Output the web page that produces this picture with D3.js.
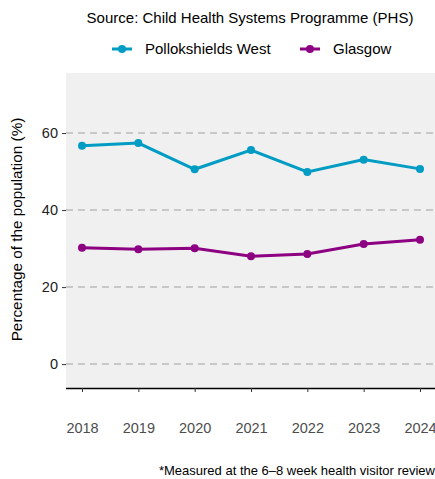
<!DOCTYPE html>
<html>
<head>
<meta charset="utf-8">
<script src="https://cdn.jsdelivr.net/npm/d3@7"></script>
<style>
  body { margin: 0; background: #fff; }
  text { font-family: "Liberation Sans", Arial, sans-serif; }
</style>
</head>
<body>
<div id="container"></div>
<script>
// Données
const years = [2018, 2019, 2020, 2021, 2022, 2023, 2024];
const pollokshields = [56.7, 57.4, 50.6, 55.6, 49.9, 53.1, 50.7];
const glasgow = [30.2, 29.8, 30.1, 28.0, 28.6, 31.2, 32.3];
const yTicks = [0, 20, 40, 60];
const seriesNames = ["Pollokshields West", "Glasgow"];
const seriesColors = ["#009cc4", "#8d0081"];

const width = 435;
const height = 479;
const panel = { left: 66, right: 435, top: 73, bottom: 388 };

const svg = d3.select("#container")
    .append("svg")
    .attr("width", width)
    .attr("height", height);

const xScale = d3.scalePoint()
    .domain(years)
    .range([82, 420]);

const yScale = d3.scaleLinear()
    .domain([-6.2, 75.6])
    .range([panel.bottom, panel.top]);

// Fond du panneau
svg.append("rect")
    .attr("x", panel.left)
    .attr("y", panel.top)
    .attr("width", panel.right - panel.left)
    .attr("height", panel.bottom - panel.top)
    .attr("fill", "#f0f0f0");

// Grille
svg.selectAll(".grid")
    .data(yTicks)
    .enter()
    .append("line")
    .attr("x1", panel.left)
    .attr("x2", panel.right)
    .attr("y1", d => yScale(d))
    .attr("y2", d => yScale(d))
    .attr("stroke", "#c8c8c8")
    .attr("stroke-width", 2)
    .attr("stroke-dasharray", "7,5");

// Axe Y
const yAxis = svg.append("g")
    .attr("transform", `translate(${panel.left},0)`)
    .call(d3.axisLeft(yScale).tickValues(yTicks).tickSize(4).tickPadding(4));
yAxis.select(".domain").remove();
yAxis.selectAll(".tick line").attr("stroke", "#333").attr("stroke-width", 1);
yAxis.selectAll(".tick text")
    .attr("fill", "#222")
    .style("font-size", "14.5px")
    .style("font-family", "Liberation Sans, Arial, sans-serif");

// Axe X
const xAxis = svg.append("g")
    .attr("transform", `translate(0,${panel.bottom})`)
    .call(d3.axisBottom(xScale).tickSize(4).tickPadding(31).tickSizeOuter(0));
xAxis.select(".domain")
    .attr("d", `M${panel.left},0.5H${panel.right}`)
    .attr("stroke", "#000")
    .attr("stroke-width", 1.3);
xAxis.selectAll(".tick line").attr("stroke", "#333");
xAxis.selectAll(".tick text")
    .attr("fill", "#4d4d4d")
    .style("font-size", "14.5px")
    .style("font-family", "Liberation Sans, Arial, sans-serif");

// Titre de l'axe Y
svg.append("text")
    .attr("transform", `translate(22,${(panel.top + panel.bottom) / 2 - 1}) rotate(-90)`)
    .attr("text-anchor", "middle")
    .style("font-size", "15.3px")
    .attr("fill", "#000")
    .text("Percentage of the population (%)");

// Lignes et points
const line = d3.line()
    .x((d, i) => xScale(years[i]))
    .y(d => yScale(d));

[pollokshields, glasgow].forEach((values, k) => {
    svg.append("path")
        .datum(values)
        .attr("d", line)
        .attr("fill", "none")
        .attr("stroke", seriesColors[k])
        .attr("stroke-width", 3);
    svg.selectAll(".pt" + k)
        .data(values)
        .enter()
        .append("circle")
        .attr("cx", (d, i) => xScale(years[i]))
        .attr("cy", d => yScale(d))
        .attr("r", 4)
        .attr("fill", seriesColors[k]);
});

// Titre
svg.append("text")
    .attr("x", 250)
    .attr("y", 23)
    .attr("text-anchor", "middle")
    .style("font-size", "15px")
    .attr("fill", "#000")
    .text("Source: Child Health Systems Programme (PHS)");

// Légende
const legendX = [112, 300];
seriesNames.forEach((name, k) => {
    const g = svg.append("g").attr("transform", `translate(${legendX[k]},49)`);
    g.append("line")
        .attr("x1", 0).attr("x2", 20)
        .attr("stroke", seriesColors[k])
        .attr("stroke-width", 3);
    g.append("circle").attr("cx", 10).attr("r", 4).attr("fill", seriesColors[k]);
    g.append("text")
        .attr("x", 33)
        .attr("y", 5)
        .style("font-size", "15px")
        .attr("fill", "#000")
        .text(name);
});

// Note
svg.append("text")
    .attr("x", 435)
    .attr("y", 475)
    .attr("text-anchor", "end")
    .style("font-size", "13px")
    .attr("fill", "#000")
    .text("*Measured at the 6\u20138 week health visitor review");
</script>
</body>
</html>
